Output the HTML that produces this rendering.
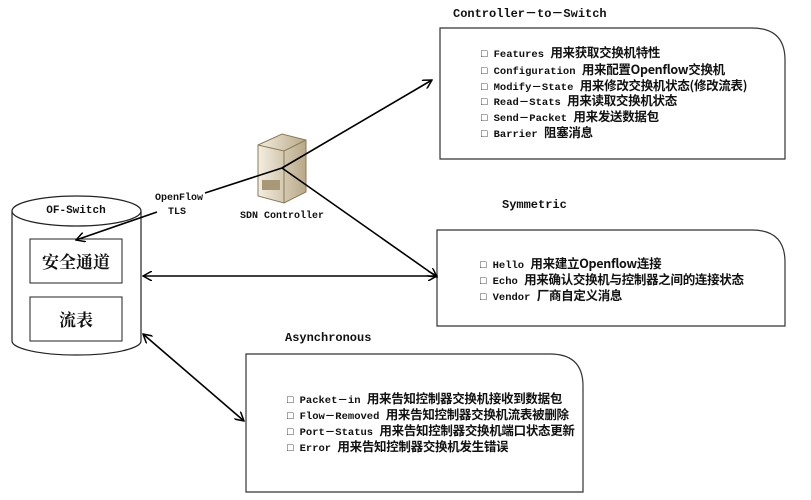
<!DOCTYPE html>
<html><head><meta charset="utf-8"><style>
body{margin:0;background:#fff;width:811px;height:500px;overflow:hidden;position:relative}
svg{position:absolute;left:0;top:0}
text{font-family:"Liberation Mono","Noto Sans CJK SC",monospace;font-weight:bold;fill:#111}
.t{font-size:10.5px}
.k{font-family:"Noto Sans CJK SC","WenQuanYi Zen Hei",sans-serif;font-size:12.5px;font-weight:bold;letter-spacing:-0.3px}
.c{font-family:"Noto Serif CJK SC","Liberation Serif",serif;font-weight:bold;font-size:17px}
</style></head><body>
<svg width="811" height="500" viewBox="0 0 811 500">
<defs>
<marker id="a" markerWidth="10" markerHeight="10" refX="9" refY="5" orient="auto" markerUnits="userSpaceOnUse"><path d="M0,0 L9,5 L0,10" fill="none" stroke="#000" stroke-width="1.5"/></marker>
<marker id="b" markerWidth="10" markerHeight="10" refX="1" refY="5" orient="auto" markerUnits="userSpaceOnUse"><path d="M10,0 L1,5 L10,10" fill="none" stroke="#000" stroke-width="1.5"/></marker>
<linearGradient id="g" x1="0" x2="1"><stop offset="0" stop-color="#f4eee0"/><stop offset="1" stop-color="#b8a888"/></linearGradient>
</defs>
<path d="M440,28 H752 Q785,28 785,60 V159 H440 Z" fill="#fff" stroke="#333" stroke-width="1.2"/>
<path d="M437,230 H752 Q785,230 785,262 V326 H437 Z" fill="#fff" stroke="#333" stroke-width="1.2"/>
<path d="M246,354 H550 Q583,354 583,386 V492 H246 Z" fill="#fff" stroke="#333" stroke-width="1.2"/>
<path d="M12,211 V341 A64.5,14 0 0 0 141,341 V211" fill="#fff" stroke="#222" stroke-width="1.2"/>
<ellipse cx="76.5" cy="211" rx="64.5" ry="15" fill="#fff" stroke="#222" stroke-width="1.2"/>
<rect x="30" y="239" width="92" height="44" fill="#fff" stroke="#222"/>
<rect x="30" y="297" width="92" height="44" fill="#fff" stroke="#222"/>
<text x="76" y="213" class="t" text-anchor="middle" style="font-size:11px">OF-Switch</text>
<text x="76" y="268" class="c" text-anchor="middle">安全通道</text>
<text x="76" y="326" class="c" text-anchor="middle">流表</text>
<path d="M258,145 L282,134 L306,140 L306,192 L284,203 L258,196 Z" fill="url(#g)" stroke="#8a7a5a"/>
<path d="M258,145 L284,151 L306,140" fill="none" stroke="#8a7a5a"/>
<path d="M284,151 L284,203" stroke="#8a7a5a"/>
<rect x="262" y="180" width="18" height="10" fill="#a89878"/>
<text x="282" y="218" class="t" text-anchor="middle" style="font-size:10px">SDN Controller</text>
<line x1="282" y1="168" x2="432" y2="80" stroke="#000" stroke-width="1.6" marker-end="url(#a)"/>
<line x1="282" y1="168" x2="205" y2="193" stroke="#000" stroke-width="1.6"/>
<line x1="157" y1="212" x2="76" y2="240" stroke="#000" stroke-width="1.6" marker-end="url(#a)"/>
<line x1="282" y1="168" x2="437" y2="277" stroke="#000" stroke-width="1.6" marker-end="url(#a)"/>
<line x1="143" y1="276" x2="437" y2="276" stroke="#000" stroke-width="1.6" marker-start="url(#b)" marker-end="url(#a)"/>
<line x1="143" y1="334" x2="244" y2="421" stroke="#000" stroke-width="1.6" marker-start="url(#b)" marker-end="url(#a)"/>
<text x="179" y="200" class="t" text-anchor="middle" style="font-size:10px">OpenFlow</text>
<text x="177" y="214" class="t" text-anchor="middle" style="font-size:10px">TLS</text>
<text x="453" y="17" class="t" style="font-size:12px">Controller－to－Switch</text>
<text x="502" y="208" class="t" style="font-size:12px">Symmetric</text>
<text x="285" y="341" class="t" style="font-size:12px">Asynchronous</text>
<g class="t">
<text x="481" y="57">□ Features <tspan class="k">用来获取交换机特性</tspan></text>
<text x="481" y="74">□ Configuration <tspan class="k">用来配置Openflow交换机</tspan></text>
<text x="481" y="90">□ Modify－State <tspan class="k">用来修改交换机状态(修改流表)</tspan></text>
<text x="481" y="105">□ Read－Stats <tspan class="k">用来读取交换机状态</tspan></text>
<text x="481" y="121">□ Send－Packet <tspan class="k">用来发送数据包</tspan></text>
<text x="481" y="137">□ Barrier <tspan class="k">阻塞消息</tspan></text>
<text x="480" y="268">□ Hello <tspan class="k">用来建立Openflow连接</tspan></text>
<text x="480" y="284">□ Echo <tspan class="k">用来确认交换机与控制器之间的连接状态</tspan></text>
<text x="480" y="300">□ Vendor <tspan class="k">厂商自定义消息</tspan></text>
<text x="287" y="403">□ Packet－in <tspan class="k">用来告知控制器交换机接收到数据包</tspan></text>
<text x="287" y="419">□ Flow－Removed <tspan class="k">用来告知控制器交换机流表被删除</tspan></text>
<text x="287" y="435">□ Port－Status <tspan class="k">用来告知控制器交换机端口状态更新</tspan></text>
<text x="287" y="451">□ Error <tspan class="k">用来告知控制器交换机发生错误</tspan></text>
</g>
</svg>
</body></html>
